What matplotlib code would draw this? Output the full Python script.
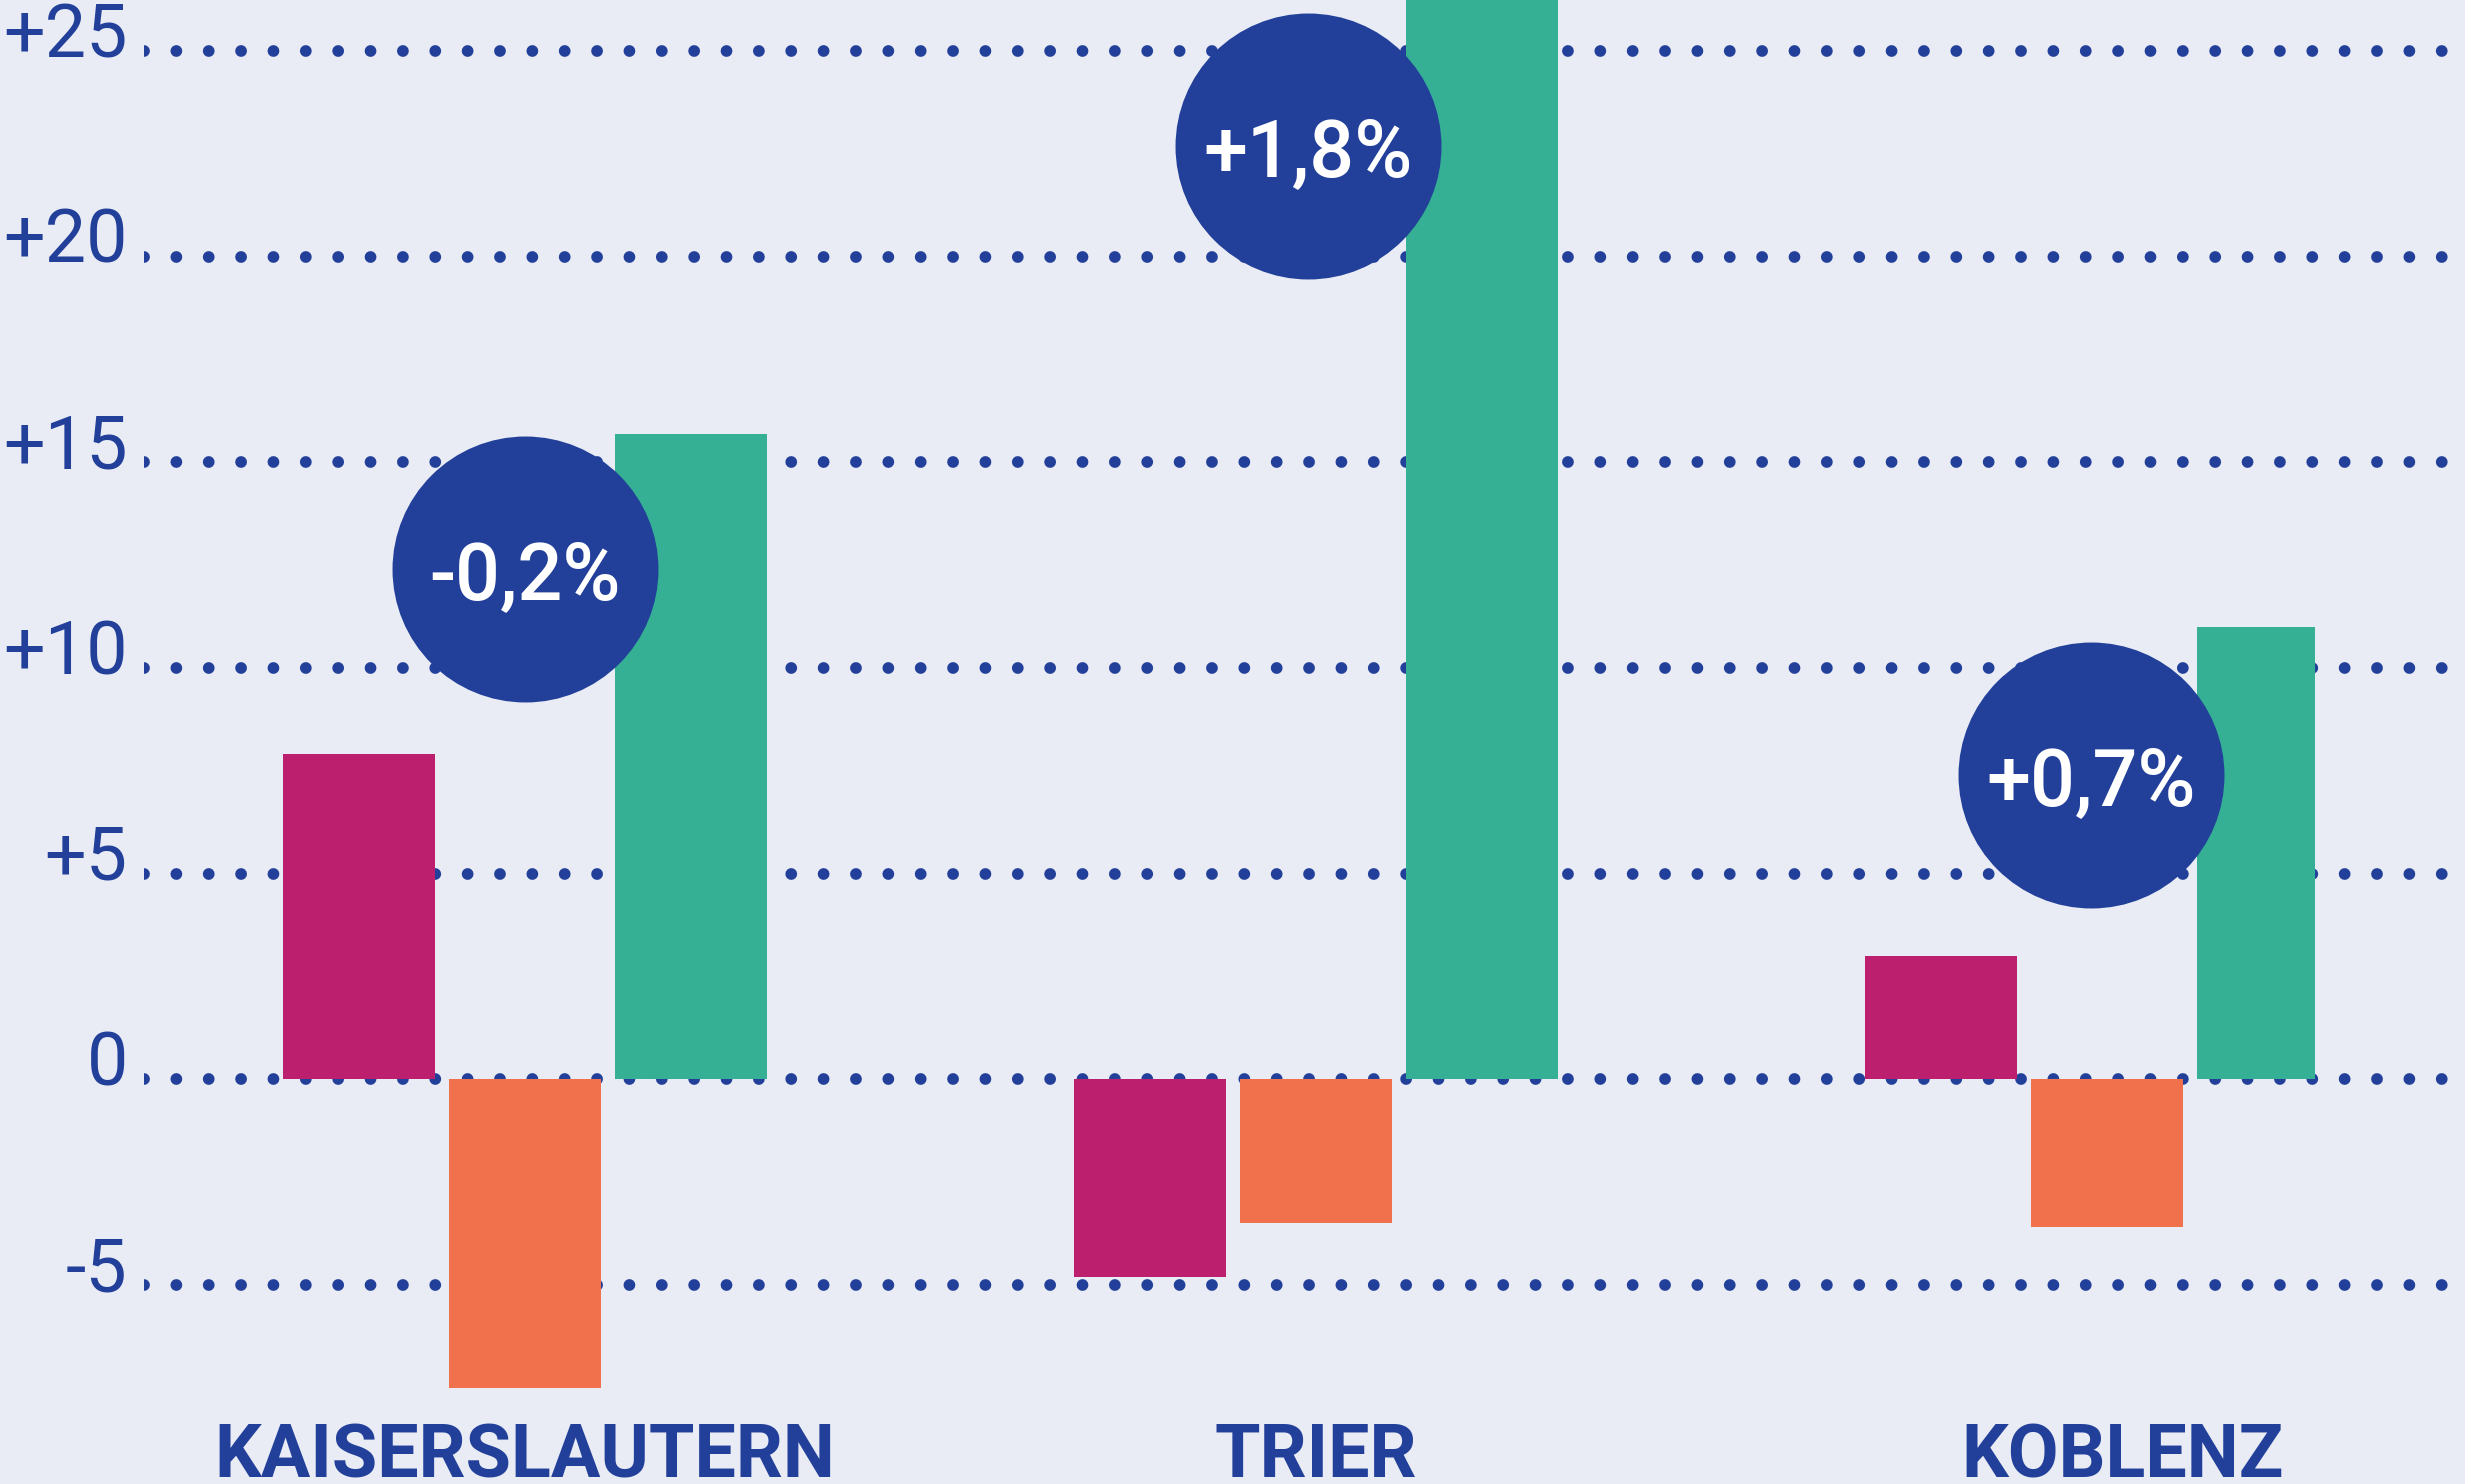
import matplotlib
matplotlib.use("Agg")
import numpy as np
import matplotlib.pyplot as plt
import matplotlib.transforms as mtransforms

# data
cities = ["KAISERSLAUTERN", "TRIER", "KOBLENZ"]
magenta_vals = [7.9, -4.8, 3.0]
orange_vals = [-7.5, -3.5, -3.6]
green_vals = [15.7, 27.5, 11.0]
bubble_labels = ["-0,2%", "+1,8%", "+0,7%"]
bubble_y = [12.4, 22.7, 7.4]
tick_vals = [-5, 0, 5, 10, 15, 20, 25]
tick_labels = ["-5", "0", "+5", "+10", "+15", "+20", "+25"]

bg = "#E9ECF5"
navy = "#22409A"
c_mag = "#BB1F6E"
c_org = "#F2714D"
c_grn = "#35B094"

plt.rcParams["lines.scale_dashes"] = False
plt.rcParams["font.family"] = ["Roboto", "DejaVu Sans"]

fig = plt.figure(figsize=(24.65, 14.84), dpi=100)
fig.patch.set_facecolor(bg)
ax = fig.add_axes([144 / 2465, 0, 1 - 144 / 2465, 1])
ax.set_facecolor(bg)

x = np.arange(len(cities))
step = 0.2097
w = 0.193
green_w = [w, w, 0.150]
bubble_shift = [0, -0.01, -0.02]
label_shift = [0, 0, 0.02]

# dotted grid lines
ax.hlines(tick_vals, -0.4817, 2.4526, colors=navy, linewidth=8.5,
          linestyles=[(0, (0.001, 23.3))], capstyle="round", zorder=1)

ax.bar(x - step, magenta_vals, width=w, color=c_mag, zorder=2)
ax.bar(x, orange_vals, width=w, color=c_org, zorder=2)
ax.bar(x + step - w / 2, green_vals, width=green_w, align="edge", color=c_grn, zorder=2)

# bubbles with percentage change
bx = x + np.array(bubble_shift)
ax.scatter(bx, bubble_y, s=191.5 ** 2, color=navy, zorder=3, linewidths=0)
for xi, yi, lab in zip(bx, bubble_y, bubble_labels):
    ax.text(xi, yi, lab, ha="center", va="center_baseline", color="white",
            fontsize=57, fontweight="medium", zorder=4)

# y labels
trans = mtransforms.blended_transform_factory(ax.transAxes, ax.transData)
for v, lab in zip(tick_vals, tick_labels):
    ax.text(-0.007, v - 0.15, lab, transform=trans, ha="right", va="baseline",
            color=navy, fontsize=53, clip_on=False)

# city names
for xi, name in zip(x + np.array(label_shift), cities):
    ax.text(xi, -9.68, name, ha="center", va="baseline", color=navy,
            fontsize=53, fontweight="bold")

ax.set_xlim(-0.4817, 2.4526)
ax.set_ylim(-9.84, 26.24)
ax.axis("off")

fig.savefig("out.png", dpi=100, facecolor=bg)
